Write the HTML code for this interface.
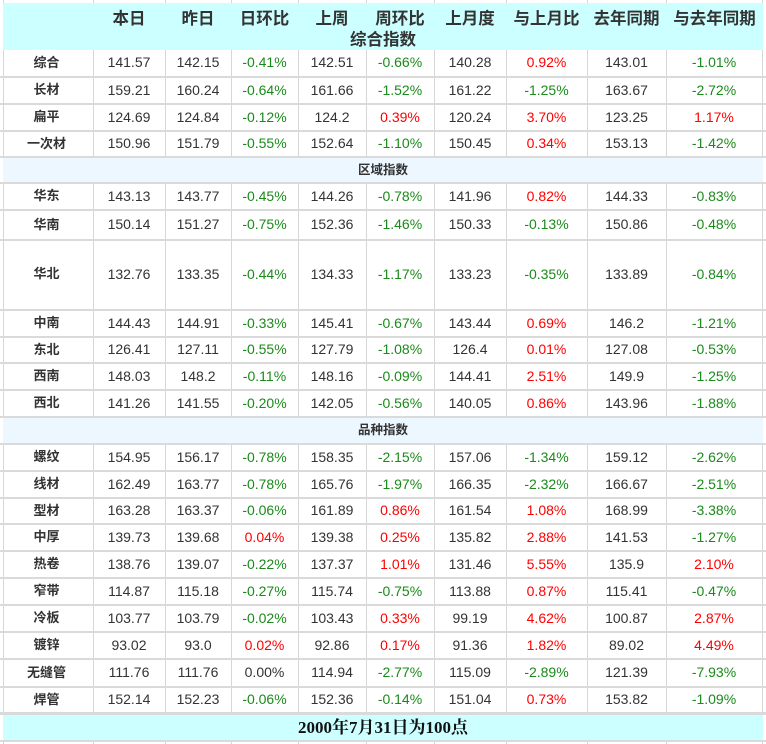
<!DOCTYPE html>
<html><head><meta charset="utf-8">
<style>
*{margin:0;padding:0;box-sizing:border-box}
html,body{width:766px;height:744px;background:#fff;overflow:hidden;position:relative;font-family:"Liberation Sans","Noto Sans CJK SC",sans-serif;color:#333}
.v{position:absolute;top:0;height:744px;width:1px;background:#d6d6d6}
.h{position:absolute;left:0;width:766px;height:2px;background:#dadada}
.fill{position:absolute;left:3px;width:760px}
.r{position:absolute;left:3px;width:760px;display:flex}
.r span{display:block;text-align:center;font-size:14px;white-space:nowrap}
.r span:nth-child(1){width:90px;font-weight:bold;font-size:13px;padding-right:3px}
.r span:nth-child(2){width:72px}
.r span:nth-child(3){width:66px}
.r span:nth-child(4){width:67px}
.r span:nth-child(5){width:68px}
.r span:nth-child(6){width:68px}
.r span:nth-child(7){width:72px}
.r span:nth-child(8){width:81px}
.r span:nth-child(9){width:79px}
.r span:nth-child(10){width:96px}
.g{color:#1a8a1a}
.d{color:#ff0000}
.hd{position:absolute;top:3px;left:3px;width:760px;height:47px;background:#ccffff}
.hd .t{position:absolute;top:5px;font-size:16.5px;font-weight:bold;text-align:center;line-height:22px;color:#333}
.sec{position:absolute;left:3px;width:760px;background:#ecf7ff;text-align:center;font-size:12.5px;font-weight:bold;color:#333}
</style></head><body>
<div class="v" style="left:3px"></div>
<div class="v" style="left:93px"></div>
<div class="v" style="left:165px"></div>
<div class="v" style="left:231px"></div>
<div class="v" style="left:298px"></div>
<div class="v" style="left:366px"></div>
<div class="v" style="left:434px"></div>
<div class="v" style="left:506px"></div>
<div class="v" style="left:587px"></div>
<div class="v" style="left:666px"></div>
<div class="v" style="left:762px"></div>

<div class="hd">
<div class="t" style="left:90px;width:72px">本日</div>
<div class="t" style="left:162px;width:66px">昨日</div>
<div class="t" style="left:228px;width:67px">日环比</div>
<div class="t" style="left:295px;width:68px">上周</div>
<div class="t" style="left:363px;width:68px">周环比</div>
<div class="t" style="left:431px;width:72px">上月度</div>
<div class="t" style="left:503px;width:81px">与上月比</div>
<div class="t" style="left:584px;width:79px">去年同期</div>
<div class="t" style="left:663px;width:97px">与去年同期</div>
<div class="t" style="left:0;top:26px;width:760px">综合指数</div>
</div>

<div class="sec" style="top:158px;height:24px;line-height:24px">区域指数</div>
<div class="sec" style="top:418px;height:25px;line-height:24px">品种指数</div>
<div class="fill" style="top:715px;height:25px;background:#ccffff;text-align:center;font-family:'Liberation Serif','Noto Serif CJK SC',serif;font-weight:bold;font-size:17px;line-height:25px;color:#111">2000年7月31日为100点</div>

<div class="h" style="top:76px"></div>
<div class="h" style="top:103px"></div>
<div class="h" style="top:130px"></div>
<div class="h" style="top:156px"></div>
<div class="h" style="top:182px"></div>
<div class="h" style="top:209px"></div>
<div class="h" style="top:239px"></div>
<div class="h" style="top:309px"></div>
<div class="h" style="top:336px"></div>
<div class="h" style="top:362px"></div>
<div class="h" style="top:389px"></div>
<div class="h" style="top:416px"></div>
<div class="h" style="top:443px"></div>
<div class="h" style="top:470px"></div>
<div class="h" style="top:497px"></div>
<div class="h" style="top:523px"></div>
<div class="h" style="top:550px"></div>
<div class="h" style="top:577px"></div>
<div class="h" style="top:604px"></div>
<div class="h" style="top:631px"></div>
<div class="h" style="top:658px"></div>
<div class="h" style="top:686px"></div>
<div class="h" style="top:712px;height:3px"></div>
<div class="h" style="top:740px"></div>

<div class="r" style="top:50px;height:26px;line-height:25px"><span>综合</span><span>141.57</span><span>142.15</span><span class="g">-0.41%</span><span>142.51</span><span class="g">-0.66%</span><span>140.28</span><span class="d">0.92%</span><span>143.01</span><span class="g">-1.01%</span></div>
<div class="r" style="top:78px;height:25px;line-height:24px"><span>长材</span><span>159.21</span><span>160.24</span><span class="g">-0.64%</span><span>161.66</span><span class="g">-1.52%</span><span>161.22</span><span class="g">-1.25%</span><span>163.67</span><span class="g">-2.72%</span></div>
<div class="r" style="top:105px;height:25px;line-height:24px"><span>扁平</span><span>124.69</span><span>124.84</span><span class="g">-0.12%</span><span>124.2</span><span class="d">0.39%</span><span>120.24</span><span class="d">3.70%</span><span>123.25</span><span class="d">1.17%</span></div>
<div class="r" style="top:132px;height:24px;line-height:23px"><span>一次材</span><span>150.96</span><span>151.79</span><span class="g">-0.55%</span><span>152.64</span><span class="g">-1.10%</span><span>150.45</span><span class="d">0.34%</span><span>153.13</span><span class="g">-1.42%</span></div>
<div class="r" style="top:184px;height:25px;line-height:24px"><span>华东</span><span>143.13</span><span>143.77</span><span class="g">-0.45%</span><span>144.26</span><span class="g">-0.78%</span><span>141.96</span><span class="d">0.82%</span><span>144.33</span><span class="g">-0.83%</span></div>
<div class="r" style="top:211px;height:28px;line-height:27px"><span>华南</span><span>150.14</span><span>151.27</span><span class="g">-0.75%</span><span>152.36</span><span class="g">-1.46%</span><span>150.33</span><span class="g">-0.13%</span><span>150.86</span><span class="g">-0.48%</span></div>
<div class="r" style="top:241px;height:68px;line-height:66px"><span>华北</span><span>132.76</span><span>133.35</span><span class="g">-0.44%</span><span>134.33</span><span class="g">-1.17%</span><span>133.23</span><span class="g">-0.35%</span><span>133.89</span><span class="g">-0.84%</span></div>
<div class="r" style="top:311px;height:25px;line-height:24px"><span>中南</span><span>144.43</span><span>144.91</span><span class="g">-0.33%</span><span>145.41</span><span class="g">-0.67%</span><span>143.44</span><span class="d">0.69%</span><span>146.2</span><span class="g">-1.21%</span></div>
<div class="r" style="top:338px;height:24px;line-height:23px"><span>东北</span><span>126.41</span><span>127.11</span><span class="g">-0.55%</span><span>127.79</span><span class="g">-1.08%</span><span>126.4</span><span class="d">0.01%</span><span>127.08</span><span class="g">-0.53%</span></div>
<div class="r" style="top:364px;height:25px;line-height:24px"><span>西南</span><span>148.03</span><span>148.2</span><span class="g">-0.11%</span><span>148.16</span><span class="g">-0.09%</span><span>144.41</span><span class="d">2.51%</span><span>149.9</span><span class="g">-1.25%</span></div>
<div class="r" style="top:391px;height:25px;line-height:24px"><span>西北</span><span>141.26</span><span>141.55</span><span class="g">-0.20%</span><span>142.05</span><span class="g">-0.56%</span><span>140.05</span><span class="d">0.86%</span><span>143.96</span><span class="g">-1.88%</span></div>
<div class="r" style="top:445px;height:25px;line-height:24px"><span>螺纹</span><span>154.95</span><span>156.17</span><span class="g">-0.78%</span><span>158.35</span><span class="g">-2.15%</span><span>157.06</span><span class="g">-1.34%</span><span>159.12</span><span class="g">-2.62%</span></div>
<div class="r" style="top:472px;height:25px;line-height:24px"><span>线材</span><span>162.49</span><span>163.77</span><span class="g">-0.78%</span><span>165.76</span><span class="g">-1.97%</span><span>166.35</span><span class="g">-2.32%</span><span>166.67</span><span class="g">-2.51%</span></div>
<div class="r" style="top:499px;height:24px;line-height:23px"><span>型材</span><span>163.28</span><span>163.37</span><span class="g">-0.06%</span><span>161.89</span><span class="d">0.86%</span><span>161.54</span><span class="d">1.08%</span><span>168.99</span><span class="g">-3.38%</span></div>
<div class="r" style="top:525px;height:25px;line-height:24px"><span>中厚</span><span>139.73</span><span>139.68</span><span class="d">0.04%</span><span>139.38</span><span class="d">0.25%</span><span>135.82</span><span class="d">2.88%</span><span>141.53</span><span class="g">-1.27%</span></div>
<div class="r" style="top:552px;height:25px;line-height:24px"><span>热卷</span><span>138.76</span><span>139.07</span><span class="g">-0.22%</span><span>137.37</span><span class="d">1.01%</span><span>131.46</span><span class="d">5.55%</span><span>135.9</span><span class="d">2.10%</span></div>
<div class="r" style="top:579px;height:25px;line-height:24px"><span>窄带</span><span>114.87</span><span>115.18</span><span class="g">-0.27%</span><span>115.74</span><span class="g">-0.75%</span><span>113.88</span><span class="d">0.87%</span><span>115.41</span><span class="g">-0.47%</span></div>
<div class="r" style="top:606px;height:25px;line-height:24px"><span>冷板</span><span>103.77</span><span>103.79</span><span class="g">-0.02%</span><span>103.43</span><span class="d">0.33%</span><span>99.19</span><span class="d">4.62%</span><span>100.87</span><span class="d">2.87%</span></div>
<div class="r" style="top:633px;height:25px;line-height:24px"><span>镀锌</span><span>93.02</span><span>93.0</span><span class="d">0.02%</span><span>92.86</span><span class="d">0.17%</span><span>91.36</span><span class="d">1.82%</span><span>89.02</span><span class="d">4.49%</span></div>
<div class="r" style="top:660px;height:26px;line-height:25px"><span>无缝管</span><span>111.76</span><span>111.76</span><span>0.00%</span><span>114.94</span><span class="g">-2.77%</span><span>115.09</span><span class="g">-2.89%</span><span>121.39</span><span class="g">-7.93%</span></div>
<div class="r" style="top:688px;height:24px;line-height:23px"><span>焊管</span><span>152.14</span><span>152.23</span><span class="g">-0.06%</span><span>152.36</span><span class="g">-0.14%</span><span>151.04</span><span class="d">0.73%</span><span>153.82</span><span class="g">-1.09%</span></div>
</body></html>
